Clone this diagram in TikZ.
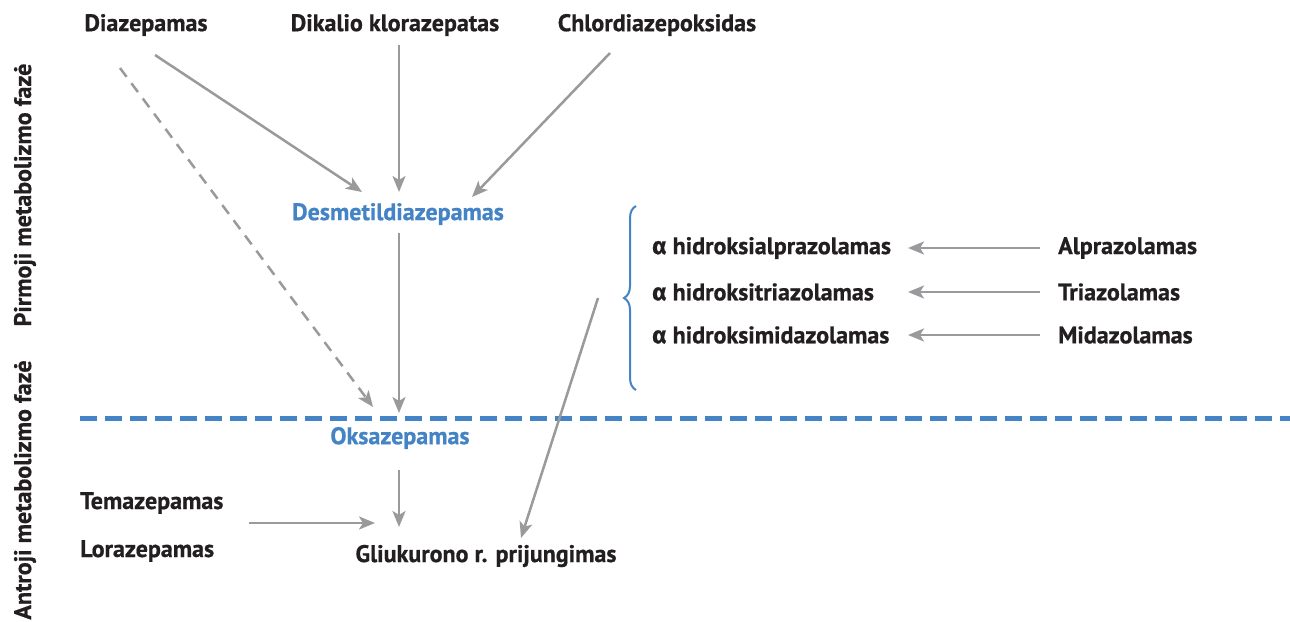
\documentclass[tikz,border=0pt]{standalone}
\usepackage{fontspec}
\setmainfont{PT Sans}[BoldFeatures={FakeBold=0.7}]
\newfontfamily\grk{Fira Sans}[BoldFeatures={FakeBold=0.7}]
\usetikzlibrary{arrows.meta,decorations.pathreplacing}
\definecolor{arrgray}{HTML}{999A9C}
\definecolor{phblue}{HTML}{4383C6}
\definecolor{txt}{HTML}{231F20}
\tikzset{
  lbl/.style={font=\fontsize{24}{26}\selectfont\bfseries, text=txt, inner sep=0pt},
  blbl/.style={lbl, text=phblue},
  arr/.style={draw=arrgray, line width=2.5pt, -{Stealth[length=16pt,width=13pt,inset=4pt]}},
  darr/.style={arr, dash pattern=on 11pt off 8pt},
}
\begin{document}
\begin{tikzpicture}[x=1pt,y=-1pt]
\useasboundingbox[fill=white] (0,0) rectangle (1290,621);
% phase labels
\node[lbl, rotate=90] (ph1) at (25,195) {Pirmoji metabolizmo fazė};
\node[lbl, rotate=90] (ph2) at (25,490) {Antroji metabolizmo fazė};
% top drugs
\node[lbl] (dia) at (146,25) {Diazepamas};
\node[lbl] (dik) at (395,25) {Dikalio klorazepatas};
\node[lbl] (chl) at (657,25) {Chlordiazepoksidas};
\node[blbl] (des) at (398,214) {Desmetildiazepamas};
\node[blbl] (oks) at (400,438) {Oksazepamas};
\node[lbl, anchor=west] (tem) at (80,503) {Temazepamas};
\node[lbl, anchor=west] (lor) at (80,551) {Lorazepamas};
\node[lbl] (gli) at (486,556) {Gliukurono r. prijungimas};
% alpha metabolites
\node[lbl, anchor=west] (ha) at (652,248) {{\grk α} hidroksialprazolamas};
\node[lbl, anchor=west] (ht) at (652,292) {{\grk α} hidroksitriazolamas};
\node[lbl, anchor=west] (hm) at (652,335) {{\grk α} hidroksimidazolamas};
\node[lbl, anchor=west] (alp) at (1058,248) {Alprazolamas};
\node[lbl, anchor=west] (tri) at (1058,292) {Triazolamas};
\node[lbl, anchor=west] (mid) at (1058,335) {Midazolamas};
% brace
\draw[phblue, line width=2pt, decorate, decoration={brace, amplitude=12pt, aspect=0.5}]
  (636,390) coordinate (bb) -- (636,206) coordinate (bt);
% arrow end points
\coordinate (diaA) at (155,55);   \coordinate (desA) at (362,192);
\coordinate (dikA) at (399,45);   \coordinate (desB) at (399,192);
\coordinate (chlA) at (610,53);   \coordinate (desC) at (472,197);
\coordinate (diaB) at (120,68);   \coordinate (oksA) at (373,407);
\coordinate (desD) at (399,233);  \coordinate (oksB) at (399,413);
\coordinate (oksC) at (399,470);  \coordinate (gliA) at (399,527);
\coordinate (temA) at (249,523);  \coordinate (gliB) at (375,523);
\coordinate (btip) at (598,298);  \coordinate (gliC) at (521,538);
\coordinate (alpA) at (1040,248); \coordinate (haA) at (908,248);
\coordinate (triA) at (1040,292); \coordinate (htA) at (908,292);
\coordinate (midA) at (1040,335); \coordinate (hmA) at (908,335);
% phase separator
\coordinate (sepL) at (80,418);
\coordinate (sepR) at (1290,418);
\draw[phblue, line width=5pt, dash pattern=on 17pt off 8pt] (sepL) -- (sepR);
% arrows
\draw[arr] (diaA) -- (desA);
\draw[arr] (dikA) -- (desB);
\draw[arr] (chlA) -- (desC);
\draw[darr] (diaB) -- (oksA);
\draw[arr] (desD) -- (oksB);
\draw[arr] (oksC) -- (gliA);
\draw[arr] (temA) -- (gliB);
\draw[arr] (btip) -- (gliC);
\draw[arr] (alpA) -- (haA);
\draw[arr] (triA) -- (htA);
\draw[arr] (midA) -- (hmA);
\end{tikzpicture}
\end{document}
